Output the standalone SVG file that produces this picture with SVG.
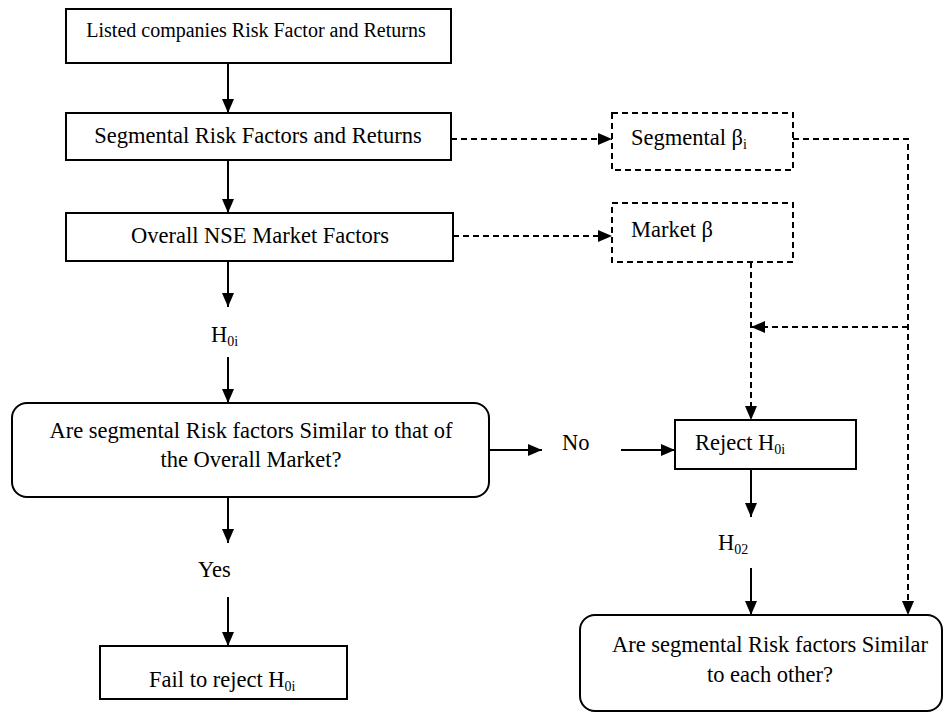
<svg xmlns="http://www.w3.org/2000/svg" width="952" height="713" viewBox="0 0 952 713">
<style>
  text { fill: #000; }
  .t22 { font-size: 22.5px; }
  .t20 { font-size: 20px; }
  .sub { font-size: 14px; }
  .box { fill: #fff; stroke: #000; stroke-width: 2; }
  .dbox { fill: #fff; stroke: #000; stroke-width: 2; stroke-dasharray: 6 4; }
  .ln { fill: none; stroke: #000; stroke-width: 2; }
  .dln { fill: none; stroke: #000; stroke-width: 2; stroke-dasharray: 6 4; }
</style>
<defs>
  <marker id="ah" markerUnits="userSpaceOnUse" markerWidth="14" markerHeight="12" refX="14" refY="6" orient="auto">
    <path d="M0,0 L14,6 L0,12 z" fill="#000"/>
  </marker>
</defs>
<rect width="952" height="713" fill="#fff"/>

<g id="connectors">
  <line class="ln" x1="228" y1="63" x2="228" y2="113" marker-end="url(#ah)"/>
  <line class="ln" x1="228" y1="160" x2="228" y2="213" marker-end="url(#ah)"/>
  <line class="ln" x1="228" y1="261" x2="228" y2="307" marker-end="url(#ah)"/>
  <line class="ln" x1="228" y1="357" x2="228" y2="403" marker-end="url(#ah)"/>
  <line class="ln" x1="228" y1="497" x2="228" y2="543" marker-end="url(#ah)"/>
  <line class="ln" x1="228" y1="597" x2="228" y2="646" marker-end="url(#ah)"/>
  <line class="ln" x1="489" y1="450" x2="542" y2="450" marker-end="url(#ah)"/>
  <line class="ln" x1="621" y1="450" x2="675" y2="450" marker-end="url(#ah)"/>
  <line class="ln" x1="751" y1="469" x2="751" y2="517" marker-end="url(#ah)"/>
  <line class="ln" x1="751" y1="568" x2="751" y2="615" marker-end="url(#ah)"/>
  <line class="dln" x1="451" y1="139" x2="612" y2="139" marker-end="url(#ah)"/>
  <line class="dln" x1="453" y1="236" x2="612" y2="236" marker-end="url(#ah)"/>
  <polyline class="dln" points="793,139 908,139 908,615" marker-end="url(#ah)"/>
  <line class="dln" x1="908" y1="327" x2="751" y2="327" marker-end="url(#ah)"/>
  <line class="dln" x1="751" y1="262" x2="751" y2="420" marker-end="url(#ah)"/>
</g>

<g id="nodes" font-family="'Liberation Serif', 'Times New Roman', 'DejaVu Serif', serif">
<g id="n1">
  <rect class="box" x="66" y="9" width="385" height="54"/>
  <text class="t20" x="256" y="37" text-anchor="middle">Listed companies Risk Factor and Returns</text>
</g>
<g id="n2">
  <rect class="box" x="66" y="113" width="385" height="47"/>
  <text class="t22" x="258" y="143" text-anchor="middle">Segmental Risk Factors and Returns</text>
</g>
<g id="n3">
  <rect class="box" x="66" y="213" width="387" height="48"/>
  <text class="t22" x="260" y="243" text-anchor="middle">Overall NSE Market Factors</text>
</g>
<g id="h0i">
  <text class="t22" x="211" y="342">H<tspan class="sub" dy="4">0i</tspan></text>
</g>
<g id="q1">
  <rect class="box" x="12" y="403" width="477" height="94" rx="15" ry="15"/>
  <text class="t22" x="251" y="438" text-anchor="middle">Are segmental Risk factors Similar to that of</text>
  <text class="t22" x="251" y="467" text-anchor="middle">the Overall Market?</text>
</g>
<g id="yes">
  <text class="t22" x="198" y="577">Yes</text>
</g>
<g id="fail">
  <rect class="box" x="100" y="646" width="247" height="53"/>
  <text class="t22" x="149" y="687">Fail to reject H<tspan class="sub" dy="4">0i</tspan></text>
</g>
<g id="no">
  <text class="t22" x="562" y="450">No</text>
</g>
<g id="segbeta">
  <rect class="dbox" x="612" y="113" width="181" height="57"/>
  <text class="t22" x="631" y="145">Segmental β<tspan class="sub" dy="4">i</tspan></text>
</g>
<g id="mktbeta">
  <rect class="dbox" x="612" y="203" width="181" height="59"/>
  <text class="t22" x="631" y="237">Market β</text>
</g>
<g id="reject">
  <rect class="box" x="675" y="420" width="181" height="49"/>
  <text class="t22" x="695" y="450">Reject H<tspan class="sub" dy="4">0i</tspan></text>
</g>
<g id="h02">
  <text class="t22" x="718" y="550">H<tspan class="sub" dy="4">02</tspan></text>
</g>
<g id="q2">
  <rect class="box" x="580" y="615" width="362" height="96" rx="15" ry="15"/>
  <text class="t22" x="770" y="652" text-anchor="middle">Are segmental Risk factors Similar</text>
  <text class="t22" x="770" y="682" text-anchor="middle">to each other?</text>
</g>
</g>
</svg>
